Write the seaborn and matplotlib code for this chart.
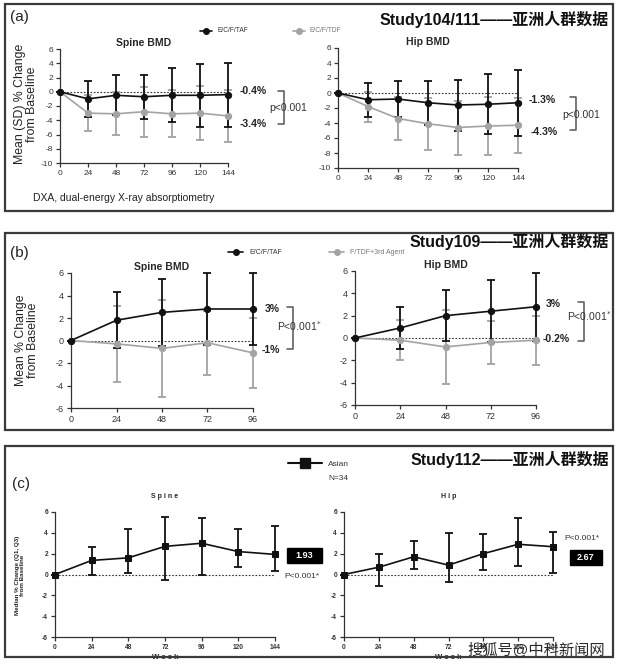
import numpy as np
import matplotlib.pyplot as plt
import matplotlib.patches as mpatches
from matplotlib.lines import Line2D
import seaborn as sns

# ---- data ----
weeks_a = [0, 24, 48, 72, 96, 120, 144]
weeks_b = [0, 24, 48, 72, 96]

a_spine_taf = [0, -1.0, -0.5, -0.7, -0.5, -0.5, -0.4]
a_spine_taf_sd = [0, 2.5, 2.8, 3.1, 3.8, 4.4, 4.5]
a_spine_tdf = [0, -3.0, -3.1, -2.8, -3.1, -3.0, -3.4]
a_spine_tdf_sd = [0, 2.5, 3.0, 3.5, 3.3, 3.8, 3.6]

a_hip_taf = [0, -0.9, -0.8, -1.3, -1.6, -1.5, -1.3]
a_hip_taf_sd = [0, 2.3, 2.4, 2.9, 3.4, 4.0, 4.4]
a_hip_tdf = [0, -1.8, -3.4, -4.1, -4.6, -4.4, -4.3]
a_hip_tdf_sd = [0, 2.0, 2.9, 3.5, 3.6, 3.9, 3.7]

b_spine_taf = [0, 1.8, 2.5, 2.8, 2.8]
b_spine_taf_sd = [0, 2.5, 2.95, 3.2, 3.2]
b_spine_tdf = [0, -0.3, -0.7, -0.2, -1.1]
b_spine_tdf_sd = [0, 3.4, 4.3, 2.85, 3.1]

b_hip_taf = [0, 0.9, 2.0, 2.4, 2.8]
b_hip_taf_sd = [0, 1.85, 2.3, 2.8, 3.05]
b_hip_tdf = [0, -0.2, -0.8, -0.4, -0.2]
b_hip_tdf_sd = [0, 1.8, 3.35, 1.95, 2.2]

c_spine_med = [0, 1.35, 1.6, 2.7, 3.0, 2.2, 1.93]
c_spine_q1 = [0, 0.0, 0.1, -0.5, 0.0, 0.7, 0.35]
c_spine_q3 = [0, 2.6, 4.35, 5.5, 5.4, 4.4, 4.7]

c_hip_med = [0, 0.7, 1.7, 0.9, 2.0, 2.9, 2.67]
c_hip_q1 = [0, -1.1, 0.5, -0.7, 0.4, 0.8, 0.1]
c_hip_q3 = [0, 1.95, 3.2, 4.0, 3.9, 5.4, 4.05]

BLACK = "#111111"
GRAY = "#a3a3a3"

sns.set_style("ticks")
plt.rcParams["font.family"] = ["Liberation Sans", "Noto Sans CJK SC", "DejaVu Sans"]
plt.rcParams["axes.unicode_minus"] = False

W, H = 618, 671
fig = plt.figure(figsize=(W / 100, H / 100), dpi=100)


def ax_at(x0, y0, x1, y1):
    return fig.add_axes([x0 / W, 1 - y1 / H, (x1 - x0) / W, (y1 - y0) / H])


def ftext(x, y, s, **kw):
    kw.setdefault("va", "center")
    fig.text(x / W, 1 - y / H, s, **kw)


def fline(xs, ys, **kw):
    fig.add_artist(Line2D([x / W for x in xs], [1 - y / H for y in ys], **kw))


def frect(x0, y0, x1, y1, **kw):
    fig.add_artist(mpatches.Rectangle((x0 / W, 1 - y1 / H), (x1 - x0) / W, (y1 - y0) / H,
                                      transform=fig.transFigure, **kw))


def bracket(x, y0, y1):
    fline([x - 6, x, x, x - 6], [y0, y0, y1, y1], color="#555555", lw=1.1)


def series(ax, x, y, lo, hi, color, marker="o", ms=4.5, lw=1.2):
    yerr = [np.array(y) - np.array(lo), np.array(hi) - np.array(y)]
    ax.errorbar(x, y, yerr=yerr, fmt="none", ecolor=color, elinewidth=1.3,
                capsize=3, capthick=1.3, clip_on=False, zorder=3)
    sns.lineplot(x=x, y=y, ax=ax, color=color, marker=marker, markersize=ms,
                 markeredgecolor=color, linewidth=lw, clip_on=False, zorder=4)


def style_axes(ax, weeks, ylim, yticks, fs=6):
    ax.set_xlim(weeks[0], weeks[-1])
    ax.set_ylim(*ylim)
    ax.set_xticks(weeks)
    ax.set_yticks(yticks)
    ax.tick_params(labelsize=fs, length=3, width=0.9, pad=2, colors="#333333")
    for s in ["top", "right"]:
        ax.spines[s].set_visible(False)
    for s in ["left", "bottom"]:
        ax.spines[s].set_linewidth(0.9)
        ax.spines[s].set_color("#333333")
    ax.set_facecolor("none")
    ax.axhline(0, ls=(0, (1.5, 1.5)), color="#333333", lw=0.8, zorder=1, clip_on=False)


def sd_series(ax, x, y, sd, color):
    lo = [v - s for v, s in zip(y, sd)]
    hi = [v + s for v, s in zip(y, sd)]
    series(ax, x, y, lo, hi, color)


# ---- panel boxes ----
for y0, y1 in [(4, 211), (233, 430), (446, 657)]:
    frect(5, y0, 613, y1, fill=False, edgecolor="#3a3a3a", lw=1.6)

title_kw = dict(fontsize=11.5, fontweight="bold", ha="right", color="#111111")
ftext(609, 20, "Study104/111——亚洲人群数据", **title_kw)
ftext(609, 242, "Study109——亚洲人群数据", **title_kw)
ftext(609, 460, "Study112——亚洲人群数据", **title_kw)

ftext(10, 17, "(a)", fontsize=11, color="#222222")
ftext(10, 253, "(b)", fontsize=11, color="#222222")
ftext(12, 484, "(c)", fontsize=11, color="#222222")

# ---- panel (a) ----
ax = ax_at(60, 49, 228, 163)
style_axes(ax, weeks_a, (-10, 6), range(-10, 7, 2))
sd_series(ax, weeks_a, a_spine_tdf, a_spine_tdf_sd, GRAY)
sd_series(ax, weeks_a, a_spine_taf, a_spine_taf_sd, BLACK)
ax.set_title("Spine BMD", fontsize=7.5, fontweight="bold", pad=2)
ax.set_xlabel("")
ax.set_ylabel("")

ax = ax_at(338, 48, 518, 168)
style_axes(ax, weeks_a, (-10, 6), range(-10, 7, 2))
sd_series(ax, weeks_a, a_hip_tdf, a_hip_tdf_sd, GRAY)
sd_series(ax, weeks_a, a_hip_taf, a_hip_taf_sd, BLACK)
ax.set_title("Hip BMD", fontsize=7.5, fontweight="bold", pad=2)

ftext(26, 104, "Mean (SD) % Change\nfrom Baseline", fontsize=8.8, rotation=90,
      ha="center", linespacing=1.0, color="#222222")
ftext(33, 198, "DXA, dual-energy X-ray absorptiometry", fontsize=7.5, color="#222222")

fline([200, 212], [31, 31], color=BLACK, lw=1.2)
fline([206], [31], color=BLACK, marker="o", ms=4)
ftext(217, 31, "E/C/F/TAF", fontsize=4.8, color="#333333")
fline([293, 305], [31, 31], color=GRAY, lw=1.2)
fline([299], [31], color=GRAY, marker="o", ms=4)
ftext(310, 31, "E/C/F/TDF", fontsize=4.8, color="#777777")

ann = dict(fontsize=7.5, fontweight="bold", color="#222222")
ftext(240, 91, "-0.4%", **ann)
ftext(240, 124, "-3.4%", **ann)
bracket(284, 91, 124)
ftext(269, 108, "p<0.001", fontsize=7.5, color="#333333")

ftext(529, 100, "-1.3%", **ann)
ftext(531, 132, "-4.3%", **ann)
bracket(576, 97, 130)
ftext(562, 115, "p<0.001", fontsize=7.5, color="#333333")

# ---- panel (b) ----
ax = ax_at(71, 273, 253, 408)
style_axes(ax, weeks_b, (-6, 6), range(-6, 7, 2), fs=6.5)
sd_series(ax, weeks_b, b_spine_tdf, b_spine_tdf_sd, GRAY)
sd_series(ax, weeks_b, b_spine_taf, b_spine_taf_sd, BLACK)
ax.set_title("Spine BMD", fontsize=7.5, fontweight="bold", pad=2)

ax = ax_at(355, 271, 536, 405)
style_axes(ax, weeks_b, (-6, 6), range(-6, 7, 2), fs=6.5)
sd_series(ax, weeks_b, b_hip_tdf, b_hip_tdf_sd, GRAY)
sd_series(ax, weeks_b, b_hip_taf, b_hip_taf_sd, BLACK)
ax.set_title("Hip BMD", fontsize=7.5, fontweight="bold", pad=2)

ftext(27, 340, "Mean % Change\nfrom Baseline", fontsize=8.8, rotation=90,
      ha="center", linespacing=1.0, color="#222222")

fline([228, 243], [252, 252], color=BLACK, lw=1.2)
fline([236], [252], color=BLACK, marker="o", ms=4)
ftext(249, 252, "E/C/F/TAF", fontsize=5, color="#333333")
fline([329, 344], [252, 252], color=GRAY, lw=1.2)
fline([337], [252], color=GRAY, marker="o", ms=4)
ftext(350, 252, "F/TDF+3rd Agent", fontsize=5, color="#777777")

ftext(265, 309, "3%", **ann)
ftext(262, 350, "-1%", **ann)
bracket(293, 307, 349)
ftext(277, 326, "P<0.001$^{*}$", fontsize=7.5, color="#333333")

ftext(546, 304, "3%", **ann)
ftext(543, 339, "-0.2%", **ann)
bracket(584, 302, 341)
ftext(567, 316, "P<0.001$^{*}$", fontsize=7.5, color="#333333")

# ---- panel (c) ----
ax = ax_at(55, 512, 275, 637)
style_axes(ax, weeks_a, (-6, 6), range(-6, 7, 2), fs=4.8)
series(ax, weeks_a, c_spine_med, c_spine_q1, c_spine_q3, BLACK, marker="s", ms=4.5)
ax.set_title("S p i n e", fontsize=5, fontweight="bold", pad=10)
ax.set_xlabel("W e e k", fontsize=5.5, fontweight="bold", labelpad=2)
for t in ax.get_xticklabels() + ax.get_yticklabels():
    t.set_fontweight("bold")

ax = ax_at(344, 512, 553, 637)
style_axes(ax, weeks_a, (-6, 6), range(-6, 7, 2), fs=4.8)
series(ax, weeks_a, c_hip_med, c_hip_q1, c_hip_q3, BLACK, marker="s", ms=4.5)
ax.set_title("H i p", fontsize=5, fontweight="bold", pad=10)
ax.set_xlabel("W e e k", fontsize=5.5, fontweight="bold", labelpad=2)
for t in ax.get_xticklabels() + ax.get_yticklabels():
    t.set_fontweight("bold")

ftext(20, 575, "Median % Change (Q1, Q3)\nfrom Baseline", fontsize=4.5, rotation=90,
      ha="center", fontweight="bold", linespacing=1.2, color="#222222")

fline([288, 322], [463, 463], color=BLACK, lw=1.5)
fline([305], [463], color=BLACK, marker="s", ms=7)
ftext(328, 464, "Asian", fontsize=6, color="#333333")
ftext(328, 478, "N=34", fontsize=6, color="#333333")

frect(287, 548, 322, 563, facecolor="black", edgecolor="black")
ftext(304.5, 555.5, "1.93", fontsize=6.5, fontweight="bold", color="white", ha="center")
ftext(284, 576, "P<0.001*", fontsize=6, color="#333333")

ftext(564, 538, "P<0.001*", fontsize=6, color="#333333")
frect(570, 550, 602, 565, facecolor="black", edgecolor="black")
ftext(586, 557.5, "2.67", fontsize=6.5, fontweight="bold", color="white", ha="center")

# watermark
ftext(605, 650, "搜狐号@中科新闻网", fontsize=11, color="#2a2a2a", ha="right")

fig.savefig("out.png", dpi=100)
